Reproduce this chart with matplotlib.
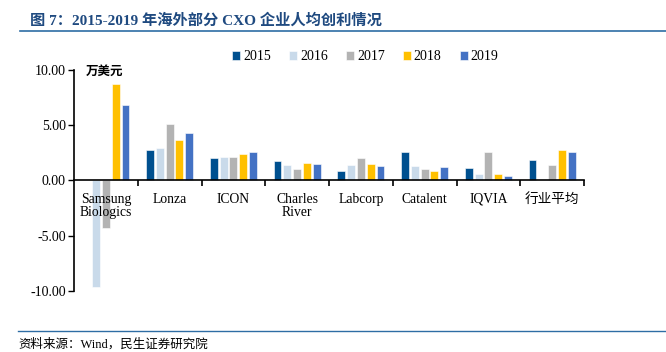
import matplotlib
matplotlib.use("Agg")
import matplotlib.pyplot as plt
import numpy as np

categories = ["Samsung\nBiologics", "Lonza", "ICON", "Charles\nRiver", "Labcorp", "Catalent", "IQVIA", "行业平均"]
years = ["2015", "2016", "2017", "2018", "2019"]
v2015 = [0.0, 2.78, 2.00, 1.73, 0.85, 2.57, 1.15, 1.85]
v2016 = [-9.65, 2.90, 2.09, 1.39, 1.36, 1.30, 0.57, 0.0]
v2017 = [-4.30, 5.12, 2.12, 1.03, 2.03, 1.06, 2.54, 1.39]
v2018 = [8.73, 3.69, 2.39, 1.55, 1.45, 0.85, 0.55, 2.75]
v2019 = [6.85, 4.33, 2.54, 1.48, 1.27, 1.21, 0.39, 2.57]
series = [v2015, v2016, v2017, v2018, v2019]
colors = ["#00508F", "#C9DAEA", "#B3B3B3", "#FFC000", "#4472C4"]
yticks = [-10, -5, 0, 5, 10]

FAM = ["Liberation Serif", "Noto Sans CJK SC"]
plt.rcParams["font.family"] = FAM

fig = plt.figure(figsize=(6.66, 3.52), dpi=100)
ax = fig.add_axes([74/666, (352-290.7)/352, (584-74)/666, (290.7-70)/352])
ax.set_axisbelow(False)

n = len(categories)
x = np.arange(n) + 0.5
pitch = 0.154
width = 0.125
for i, (vals, c, yr) in enumerate(zip(series, colors, years)):
    ax.bar(x + (i - 2) * pitch, vals, width=width, color=c, edgecolor="white",
           linewidth=0.4, label=yr, zorder=2)

ax.set_xlim(0, n)
ax.set_ylim(-10, 10)
ax.set_yticks(yticks)
ax.set_yticklabels([f"{v:.2f}" for v in yticks], fontsize=10)
ax.tick_params(axis="y", direction="out", length=4, width=1, pad=2)

ax.spines["top"].set_visible(False)
ax.spines["right"].set_visible(False)
ax.spines["bottom"].set_position(("data", 0))
ax.spines["bottom"].set_linewidth(1.2)
ax.spines["left"].set_linewidth(1.2)
ax.spines["bottom"].set_zorder(3)

ax.set_xticks(np.arange(1, n + 1))
ax.set_xticklabels([])
ax.tick_params(axis="x", which="major", direction="out", length=4, width=1.2)
ax.set_xticks(x, minor=True)
ax.set_xticklabels(categories, minor=True, fontsize=9.8, linespacing=1.05)
ax.tick_params(axis="x", which="minor", length=0, pad=9)
for lbl in ax.get_xticklabels(minor=True):
    lbl.set_verticalalignment("top")

ax.text(0.18, 9.85, "万美元", fontsize=9, fontweight="bold", va="center", ha="left",
        family=["Noto Sans CJK SC"])

leg = fig.legend(loc="center left", bbox_to_anchor=(232/666, 1 - 56.5/352), ncol=5,
                 frameon=False, fontsize=10, handlelength=0.6, handleheight=0.6,
                 handletextpad=0.2, columnspacing=1.3, borderaxespad=0, borderpad=0)

fig.text(30/666, 1 - 20/352, "图 7：2015-2019 年海外部分 CXO 企业人均创利情况",
         fontsize=11, fontweight="bold", color="#1F4A80", va="center", ha="left")
fig.add_artist(plt.Line2D([20/666, 1.0], [1 - 31/352, 1 - 31/352], color="#2E6DA4", lw=1.2))
fig.add_artist(plt.Line2D([18/666, 1.0], [1 - 331/352, 1 - 331/352], color="#2E6DA4", lw=1.0))
fig.text(18/666, 1 - 344/352, "资料来源：Wind，民生证券研究院", fontsize=9, va="center", ha="left")

fig.savefig("out.png", dpi=100)
